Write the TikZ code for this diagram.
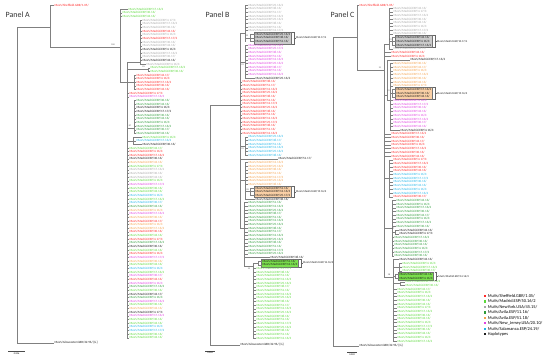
\documentclass[tikz,border=0pt]{standalone}
\usepackage{fontspec}
\setmainfont{Carlito}
\usetikzlibrary{positioning,fit,backgrounds}
\definecolor{rd}{HTML}{FF2A2A}
\definecolor{lg}{HTML}{5AD83A}
\definecolor{gy}{HTML}{A8A8A8}
\definecolor{dg}{HTML}{2E9B3A}
\definecolor{og}{HTML}{F4A24E}
\definecolor{mg}{HTML}{E041E0}
\definecolor{cy}{HTML}{22B5E8}
\definecolor{bk}{HTML}{1E1E1E}
\definecolor{hapgreen}{HTML}{7ADF4C}
\newcount\rw
\tikzset{
  br/.style={draw=black!50, line width=0.4pt},
  leaf/.style={anchor=west, inner sep=0pt, xshift=0.3pt, font=\fontsize{3.2}{3.6}\selectfont},
  boot/.style={font=\fontsize{2.2}{2.4}\selectfont, text=black!70, inner sep=0pt},
  ptitle/.style={anchor=west, font=\fontsize{8}{9}\selectfont, text=black!80},
  hapbox/.style={draw=black!55, line width=0.3pt, inner sep=0.7pt},
  hlab/.style={font=\fontsize{2.8}{3}\selectfont, inner sep=0pt, text=bk},
  brk/.style={draw=black!60, line width=0.3pt},
  lgsq/.style={minimum size=2.4pt, inner sep=0pt},
  lgtx/.style={anchor=west, font=\fontsize{4.4}{5}\selectfont, inner sep=0pt},
  sbar/.style={draw=black!70, line width=0.4pt},
  sbl/.style={font=\fontsize{2.4}{2.6}\selectfont, inner sep=0pt},
}
% one run of leaves: prefix, first y, row step, seed, list of x/stub/colour/count
\newcommand{\leafrun}[5]{%
  \global\rw=0
  \foreach \vx/\len/\cl/\nr in {#5} {
    \foreach \kk in {1,...,\nr} {
      \global\advance\rw by 1
      \pgfmathsetmacro\yy{#2+#3*(\the\rw-1)}
      \pgfmathtruncatemacro\wk{mod(\the\rw*13+#4,52)+1}
      \pgfmathtruncatemacro\sfx{mod(\the\rw*7+#4,4)}
      \pgfmathtruncatemacro\yr{mod(\the\rw*3+#4,5)==0 ? 17 : 16}
      \edef\nm{#1\the\rw}
      \draw[br] (\vx,\yy) -- ++(\len,0) node[leaf, text=\cl] (\nm)
        {MuVs/Madrid.ESP/\wk.\yr/\ifnum\sfx>1 \sfx\fi};
    }
  }%
}

\begin{document}
\begin{tikzpicture}[x=1pt,y=-1pt]
\useasboundingbox (0,0) rectangle (550,359);

\node[ptitle] (tA) at (2,15) {Panel A};
\node[ptitle] (tB) at (202,15) {Panel B};
\node[ptitle] (tC) at (327,15) {Panel C};

% ---------------- panel A
\node[leaf, text=rd] (shA) at (54,5) {MuVs/Sheffield.GBR/1.05/};
\node[leaf, text=bk] (glA) at (54,343) {MuVs/Gloucester.GBR/32.96/ [G]};
\draw[br] (17,27) -- (17,343) -- (glA.west);
\draw[br] (17,27) -- (50,27);
\draw[br] (50,5) -- (shA.west);
\draw[br] (50,5) -- (50,47) -- (120,47);
\draw[br] (120,9.3) -- (120,82) -- (127,82);
\draw[br] (127,62) -- (127,337.8);
\draw[br] (127,62) -- (140,62) (140,20.25) -- (140,64.05);
\draw[br] (127,69.5) -- (148,69.5) (148,67.7) -- (148,71.35);
\draw[br] (127,82) -- (134,82) (134,75) -- (134,89.6);
\draw[br] (127,128) -- (134,128) (134,100.55) -- (134,133.4);
\draw[br] (127,141) -- (133,141) (133,137.05) -- (133,144.35);
\leafrun{A}{9.3}{3.65}{3}{120/8/lg/1, 120/2/lg/2,
  140/2/gy/3, 140/2/rd/1, 140/2/gy/1, 140/2/rd/1, 140/2/gy/2, 140/2/bk/1, 140/2/gy/2, 140/2/bk/1, 140/6/gy/1,
  148/2/lg/2, 134/2/rd/5, 127/2/rd/1, 127/2/mg/1,
  134/2/dg/2, 134/2/bk/2, 134/2/dg/6,
  133/9/lg/1, 133/3/cy/1, 133/9/bk/1,
  127/2/lg/1, 127/2/rd/2, 127/2/bk/1, 127/2/og/1, 127/2/lg/1, 127/2/gy/3,
  127/2/lg/1, 127/2/mg/1, 127/2/lg/2, 127/2/cy/1, 127/2/lg/1, 127/2/cy/1, 127/2/dg/1, 127/2/og/1,
  127/2/mg/1, 127/2/og/1, 127/2/rd/1, 127/2/og/2, 127/2/rd/1, 127/2/lg/1, 127/2/rd/1, 127/2/dg/1,
  127/2/bk/1, 127/2/lg/1, 127/2/rd/1, 127/2/mg/1, 127/2/og/1, 127/2/lg/1, 127/2/cy/1, 127/2/lg/1,
  127/2/mg/1, 127/2/rd/1, 127/2/mg/1, 127/2/dg/1, 127/2/lg/1, 127/2/bk/1, 127/2/dg/1, 127/2/mg/1,
  127/2/lg/1, 127/2/og/1, 127/2/bk/1, 127/2/mg/1, 127/2/lg/2, 127/2/cy/2, 127/2/lg/2}
\node[boot] (bA1) at (113,44.5) {100};
\node[boot] (bA2) at (143.5,67) {95};
\node[boot] (bA3) at (130,126) {87};
\draw[sbar] (8,351.5) -- (25,351.5) node[sbl, midway, below=0.8pt] (sA) {0.006};

% ---------------- panel B
\node[leaf, text=bk] (glB) at (240,345) {MuVs/Gloucester.GBR/32.96/ [G]};
\draw[br] (210,105) -- (210,345) -- (glB.west);
\draw[br] (210,105) -- (240,105);
\draw[br] (240,33) -- (240,228);
\draw[br] (240,33) -- (245,33) (245,5) -- (245,41.6);
\draw[br] (245,37.94) -- (250,37.94) (250,34.28) -- (250,41.6);
\draw[br] (240,62) -- (245,62) (245,45.26) -- (245,78.2);
\draw[br] (240,146) -- (245,146) (245,136.76) -- (245,155.06);
\draw[br] (240,180) -- (245,180) (245,162.38) -- (245,198.98);
\draw[br] (245,191.66) -- (250,191.66) (250,188) -- (250,195.32);
\draw[br] (240,228) -- (244,228) (244,202.64) -- (244,266);
\draw[br] (244,266) -- (253,266) (253,263) -- (253,338.06);
\draw[br] (253,263.03) -- (258,263.03) (258,261.2) -- (258,264.86);
\leafrun{B}{5}{3.66}{11}{245/3/gy/8, 250/5/bk/3, 245/3/mg/9, 245/10/bk/1,
  240/2/rd/15, 245/3/cy/6, 240/38/bk/1, 245/3/og/7, 250/5/bk/3, 245/10/bk/1,
  244/4/dg/15, 244/26/bk/1, 258/4/bk/2, 253/3/lg/20}
\node[boot] (bB1) at (247,36) {99};
\node[boot] (bB2) at (242.5,65) {99};
\node[boot] (bB3) at (242.5,149) {99};
\node[boot] (bB4) at (247.5,189.5) {98};
\node[boot] (bB5) at (249,269) {99};
\draw[sbar] (205,351) -- (215,351) node[sbl, midway, below=0.8pt] (sB) {0.004};

% ---------------- panel C
\node[leaf, text=rd] (shC) at (359,5) {MuVs/Sheffield.GBR/1.05/};
\node[leaf, text=bk] (glC) at (359,346) {MuVs/Gloucester.GBR/32.96/ [G]};
\draw[br] (333,37) -- (333,346) -- (glC.west);
\draw[br] (333,37) -- (357,37);
\draw[br] (357,5) -- (shC.west);
\draw[br] (357,5) -- (357,70) -- (384,70);
\draw[br] (384,44) -- (384,277);
\draw[br] (384,44) -- (389,44) (389,8) -- (389,48.7);
\draw[br] (389,41.3) -- (392,41.3) (392,37.6) -- (392,45);
\draw[br] (384,95) -- (387,95) (387,59.8) -- (387,100) -- (390,100) (390,63.5) -- (390,130.1);
\draw[br] (390,93.1) -- (392,93.1) (392,89.4) -- (392,96.8);
\draw[br] (384,178) -- (389,178) (389,159.7) -- (389,196.7);
\draw[br] (384,228) -- (392,228) (392,200.4) -- (392,255.9);
\draw[br] (392,231.85) -- (395,231.85) (395,230) -- (395,233.7);
\draw[br] (384,277) -- (393,277) (393,259.6) -- (393,341);
\draw[br] (393,267) -- (399,267) (399,263.3) -- (399,270.7);
\draw[br] (393,276.25) -- (395,276.25) (395,274.4) -- (395,278.1);
\draw[br] (393,283.65) -- (400,283.65) (400,281.8) -- (400,285.5);
\leafrun{C}{8}{3.7}{29}{389/4/gy/8, 392/4/bk/3, 389/4/gy/1, 384/7/rd/2, 387/23/bk/1,
  390/3/og/7, 392/4/bk/3, 390/3/mg/8, 390/10/bk/1, 384/7/rd/7, 389/4/rd/4,
  389/4/cy/6, 389/4/rd/1, 392/4/dg/8, 395/4/bk/2, 392/2/dg/6, 393/6/bk/1,
  399/3/lg/3, 395/4/bk/2, 400/5/lg/2, 393/4/lg/15}
\node[boot] (bC1) at (380,67.5) {91};
\node[boot] (bC2) at (390.5,39.5) {99};
\node[boot] (bC3) at (388.5,91) {99};
\node[boot] (bC4) at (393,229) {97};
\node[boot] (bC5) at (389,274.5) {98};
\draw[sbar] (347,352.5) -- (357,352.5) node[sbl, midway, below=0.8pt] (sC) {0.002};

% haplotype boxes
\begin{scope}[on background layer]
  \node[hapbox, fill=black!20, fit=(B9)(B11)] (hbB1) {};
  \node[hapbox, fill=og!50, fit=(B51)(B53)] (hbB2) {};
  \node[hapbox, fill=hapgreen, fit=(B71)(B72)] (hbB3) {};
  \node[hapbox, fill=black!20, fit=(C9)(C11)] (hbC1) {};
  \node[hapbox, fill=og!50, fit=(C23)(C25)] (hbC2) {};
  \node[hapbox, fill=hapgreen, fit=(C73)(C74)] (hbC3) {};
\end{scope}
\foreach \bx/\tx in {hbB1/{MuVs/Madrid.ESP/10.17/4}, hbB2/{MuVs/Madrid.ESP/19.16/3},
    hbB3/{MuVs/Madrid.ESP/14.16/3}, hbC1/{MuVs/Madrid.ESP/10.17/4},
    hbC2/{MuVs/Madrid.ESP/19.16/3}, hbC3/{MuVs/Madrid.ESP/14.16/3}} {
  \node[hlab, anchor=west] (\bx-l) at ([xshift=4.5pt]\bx.east) {\tx};
  \draw[brk] ([xshift=1pt]\bx.north east) -- ++(1.5,0) |- ([xshift=1pt]\bx.south east);
  \draw[brk] ([xshift=2.5pt]\bx.east) -- (\bx-l.west);
}

% legend
\foreach \cl/\tx [count=\i] in {rd/{MuVs/Sheffield.GBR/1.05/}, lg/{MuVs/Madrid.ESP/50.16/2},
    gy/{MuVs/NewYork.USA/45.15/}, dg/{MuVs/Avila.ESP/11.16/}, og/{MuVs/Avila.ESP/51.18/},
    mg/{MuVs/New\_Jersey.USA/20.10/}, cy/{MuVs/Salamanca.ESP/24.19/}, bk/{Haplotypes}} {
  \node[lgsq, fill=\cl] (sq\i) at (485,296+5.45*\i-5.45) {};
  \node[lgtx, right=1.2pt of sq\i] (lt\i) {\tx};
}
\end{tikzpicture}
\end{document}
